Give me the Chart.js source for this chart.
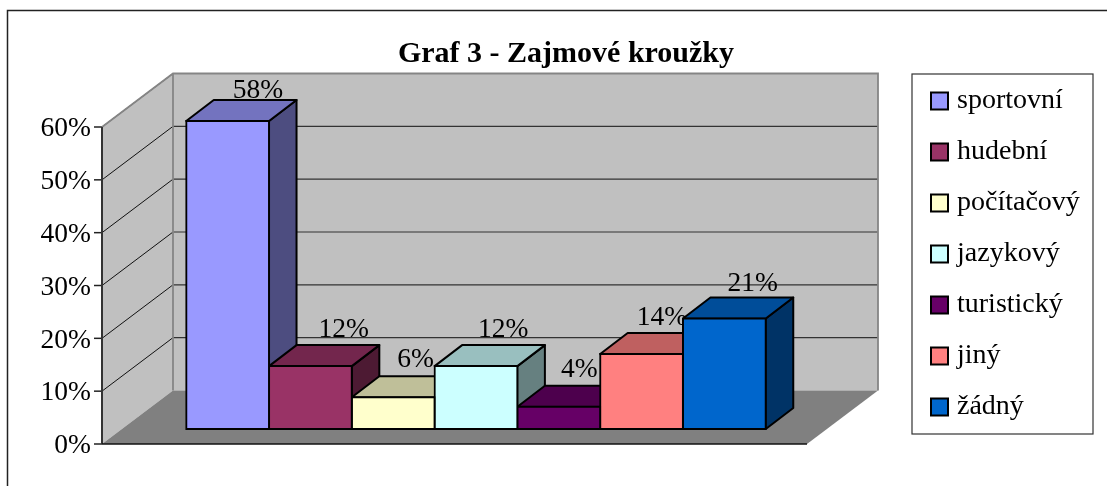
<!DOCTYPE html>
<html>
<head>
<meta charset="utf-8">
<title>Graf 3</title>
<script src="https://cdn.jsdelivr.net/npm/chart.js@4/dist/chart.umd.js"></script>
<style>
html,body{margin:0;padding:0;background:#fff;overflow:hidden}
canvas{display:block}
</style>
</head>
<body>
<canvas id="myChart" width="1107" height="486"></canvas>
<script>
const categories=[''];
const seriesNames=['sportovní','hudební','počítačový','jazykový','turistický','jiný','žádný'];
const seriesValues=[58.3,11.9,6,11.9,4.2,14.2,20.9];
const seriesColors=['#9999FF','#993366','#FFFFCC','#CCFFFF','#660066','#FF8080','#0066CC'];

// 3d look: floor depth and bar depth in pixels
const floorDx=71,floorDy=-53.5;
const barDx=27.5,barDy=-21;
const frontShift=-21.5;
const labelNudge=[1,4,0,-2,-2,-9,-1];

function shade(hex,f){
    const n=parseInt(hex.slice(1),16);
    return `rgb(${Math.round((n>>16)*f)},${Math.round(((n>>8)&255)*f)},${Math.round((n&255)*f)})`;
}
function poly(ctx,pts,fill,stroke,width){
    ctx.beginPath();
    pts.forEach((p,i)=>i?ctx.lineTo(p[0],p[1]):ctx.moveTo(p[0],p[1]));
    ctx.closePath();
    if(fill){ctx.fillStyle=fill;ctx.fill();}
    if(stroke){ctx.strokeStyle=stroke;ctx.lineWidth=width;ctx.stroke();}
}
function line(ctx,x1,y1,x2,y2,color,width){
    ctx.beginPath();
    ctx.moveTo(x1,y1);
    ctx.lineTo(x2,y2);
    ctx.strokeStyle=color;
    ctx.lineWidth=width;
    ctx.stroke();
}

const box3d={
    id:'box3d',
    beforeLayout(chart){
        const legend=chart.legend,fit=legend.fit;
        legend.fit=function(){fit.call(this);this.width=278.5;};
    },
    afterLayout(chart){
        chart.titleBlock.left=25;
        chart.legend.left=913;
        chart.legend.top=64;
        chart.legend.adjustHitBoxes();
    },
    beforeDraw(chart){
        const ctx=chart.ctx,a=chart.chartArea,y=chart.scales.y;
        const x0=a.left+frontShift,x1=a.right+frontShift,y0=a.top,yb=a.bottom;
        ctx.save();
        ctx.fillStyle='#fff';
        ctx.fillRect(0,0,chart.width,chart.height);
        // outer frame, runs off the picture right and below
        ctx.strokeStyle='#222';
        ctx.lineWidth=1.5;
        ctx.strokeRect(7.5,10.5,1200,600);
        // legend box
        ctx.strokeStyle='#333';
        ctx.lineWidth=1.2;
        ctx.strokeRect(912,74,181,360);
        // walls
        poly(ctx,[[x0,y0],[x0+floorDx,y0+floorDy],[x0+floorDx,yb+floorDy],[x0,yb]],'#C0C0C0');
        poly(ctx,[[x0+floorDx,y0+floorDy],[x1+floorDx,y0+floorDy],[x1+floorDx,yb+floorDy],[x0+floorDx,yb+floorDy]],'#C0C0C0');
        poly(ctx,[[x0,yb],[x1,yb],[x1+floorDx,yb+floorDy],[x0+floorDx,yb+floorDy]],'#808080');
        // grid lines on both walls
        y.ticks.forEach(t=>{
            const py=y.getPixelForValue(t.value);
            if(t.value>0){
                line(ctx,x0,py,x0+floorDx,py+floorDy,'#111',1);
                if(t.value<60) line(ctx,x0+floorDx,py+floorDy,x1+floorDx,py+floorDy,'#333',1.2);
            }
            line(ctx,x0-8,py,x0,py,'#222',1.5);
        });
        // wall edges
        ctx.beginPath();
        ctx.moveTo(x0,y0);
        ctx.lineTo(x0+floorDx,y0+floorDy);
        ctx.lineTo(x1+floorDx,y0+floorDy);
        ctx.lineTo(x1+floorDx,yb+floorDy);
        ctx.moveTo(x0+floorDx,y0+floorDy);
        ctx.lineTo(x0+floorDx,yb+floorDy);
        ctx.strokeStyle='#858585';
        ctx.lineWidth=1.8;
        ctx.stroke();
        line(ctx,x0,y0,x0,yb,'#333',2);
        line(ctx,x0,yb,x1,yb,'#111',1.5);
        ctx.restore();
    },
    beforeDatasetsDraw(chart){
        const ctx=chart.ctx;
        ctx.save();
        // labels sit behind the bars, the blue one cuts into 14%
        ctx.font='27.5px "Liberation Serif"';
        ctx.fillStyle='#000';
        ctx.textBaseline='alphabetic';
        ctx.textAlign='left';
        seriesValues.forEach((v,i)=>{
            const bar=chart.getDatasetMeta(i).data[0];
            const left=bar.x-bar.width/2;
            ctx.fillText(Math.round(v)+'%',left+45.5+labelNudge[i],bar.y+barDy-2-(58.3-v)*0.13);
        });
        // side and top faces, left to right so the next bar covers the last one
        seriesValues.forEach((v,i)=>{
            const bar=chart.getDatasetMeta(i).data[0];
            const l=bar.x-bar.width/2,r=bar.x+bar.width/2,t=bar.y,b=bar.base;
            ctx.lineJoin='round';
            poly(ctx,[[r,t],[r+barDx,t+barDy],[r+barDx,b+barDy],[r,b]],shade(seriesColors[i],0.5),'#000',2);
            poly(ctx,[[l,t],[l+barDx,t+barDy],[r+barDx,t+barDy],[r,t]],shade(seriesColors[i],0.75),'#000',2);
        });
        ctx.restore();
    }
};

const datasets=seriesNames.map((name,i)=>({
    label:name,
    data:[seriesValues[i]],
    backgroundColor:seriesColors[i],
    borderColor:'#000',
    borderWidth:2,
    borderSkipped:false,
    inflateAmount:1,
    yAxisID:'y2',
    clip:false
}));

Chart.defaults.font.family='"Liberation Serif"';
Chart.defaults.color='#000';

new Chart(document.getElementById('myChart'),{
    type:'bar',
    data:{labels:categories,datasets:datasets},
    plugins:[box3d],
    options:{
        responsive:false,
        animation:false,
        layout:{padding:{bottom:42}},
        categoryPercentage:0.822,
        barPercentage:1,
        plugins:{
            tooltip:{enabled:false},
            title:{
                display:true,
                text:'Graf 3 - Zajmové kroužky',
                color:'#000',
                font:{size:30,weight:'bold',lineHeight:1},
                padding:{top:39,bottom:58}
            },
            legend:{
                position:'right',
                align:'start',
                labels:{
                    font:{size:28},
                    color:'#000',
                    usePointStyle:true,
                    pointStyle:'rect',
                    boxWidth:7,
                    boxHeight:17,
                    padding:23
                }
            }
        },
        scales:{
            x:{display:false},
            y:{
                min:0,
                max:60,
                // the big tick padding must not eat into the plot height
                afterFit(s){s.width=123.5;s.paddingTop=0;s.paddingBottom=0;},
                grid:{display:false,drawTicks:false},
                border:{display:false},
                ticks:{
                    stepSize:10,
                    padding:32.5,
                    labelOffset:2,
                    color:'#000',
                    font:{size:27.5},
                    callback:v=>v+'%'
                }
            },
            // bars stand further back on the floor than the front edge of it
            y2:{display:false,min:-2.84,max:57.16}
        }
    }
});
</script>
</body>
</html>
